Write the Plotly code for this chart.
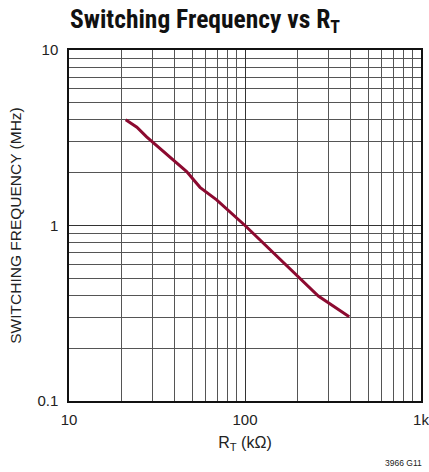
import plotly.graph_objects as go

# Data
rt_kohm = [21, 24.3, 27.6, 40.9, 46.6, 55.5, 69, 100, 145, 201, 261, 391]
freq_mhz = [4.0, 3.63, 3.2, 2.26, 2.03, 1.65, 1.40, 1.0, 0.695, 0.511, 0.396, 0.302]

x_ticks = [10, 100, 1000]
x_tick_labels = ["10", "100", "1k"]
y_ticks = [0.1, 1, 10]
y_tick_labels = ["0.1", "1", "10"]

x_minor = [m * d for d in (10, 100) for m in range(2, 10)]
y_minor = [m * d for d in (0.1, 1) for m in range(2, 10)]

W, H = 429, 472
L, T, R, B = 69, 50, 8, 71
PW = W - L - R
PH = H - T - B

fig = go.Figure()
fig.add_trace(go.Scatter(
    x=rt_kohm, y=freq_mhz, mode="lines",
    line=dict(color="#8c0a30", width=3),
    showlegend=False, hoverinfo="skip",
))

axis_font = dict(family="Liberation Sans, Arial, sans-serif", size=15, color="#222")

fig.update_layout(
    width=W, height=H,
    margin=dict(l=L, r=R, t=T, b=B, pad=0),
    paper_bgcolor="white", plot_bgcolor="white",
    title=dict(
        text="Switching Frequency vs R<sub>T</sub>",
        x=70 / W, xanchor="left", y=1 - 19 / H, yanchor="middle",
        font=dict(family="Liberation Sans Narrow, Roboto Condensed, Arial Narrow, sans-serif",
                  size=25.5, color="#111", weight="bold"),
    ),
    xaxis=dict(
        type="log", range=[1, 3], automargin=False,
        tickvals=x_ticks, ticktext=x_tick_labels, ticklabeloverflow="allow",
        tickfont=axis_font, ticks="", ticklen=0, ticklabelstandoff=4,
        showgrid=True, gridcolor="#333", gridwidth=1,
        minor=dict(tickvals=x_minor, showgrid=True, gridcolor="#555", gridwidth=1, ticks=""),
        showline=True, linecolor="#111", linewidth=1.5, mirror=True,
        zeroline=False,
        title=dict(text="R<sub>T</sub> (kΩ)",
                   font=dict(family="Liberation Sans, Arial, sans-serif", size=16, color="#222"),
                   standoff=10),
    ),
    yaxis=dict(
        type="log", range=[-1, 1], automargin=False,
        tickvals=y_ticks, ticktext=y_tick_labels, ticklabeloverflow="allow",
        tickfont=axis_font, ticks="", ticklen=0, ticklabelstandoff=6,
        showgrid=True, gridcolor="#333", gridwidth=1,
        minor=dict(tickvals=y_minor, showgrid=True, gridcolor="#555", gridwidth=1, ticks=""),
        showline=True, linecolor="#111", linewidth=1.5, mirror=True,
        zeroline=False,
        title=dict(text="SWITCHING FREQUENCY (MHz)",
                   font=dict(family="Liberation Sans, Arial, sans-serif", size=15.5, color="#222"),
                   standoff=12),
    ),
    annotations=[dict(
        text="3966 G11", xref="paper", yref="paper",
        x=1 + 3 / PW, y=-(463 - 401) / PH, xanchor="right", yanchor="middle",
        showarrow=False,
        font=dict(family="Liberation Sans Narrow, Arial Narrow, sans-serif", size=8.5, color="#222"),
    )],
)

fig.write_html(
    "out.html",
    config={"displayModeBar": False},
    post_script="document.body.style.margin='0';document.body.style.overflow='hidden';",
)
